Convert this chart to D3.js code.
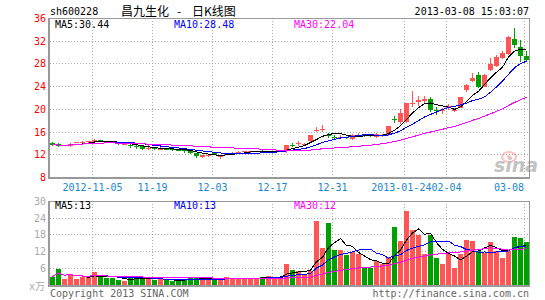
<!DOCTYPE html>
<html>
<head>
<meta charset="utf-8">
<script src="https://cdn.jsdelivr.net/npm/d3@7"></script>
<style>
body { margin: 0; background: #fff; }
svg { display: block; }
text { font-family: "DejaVu Sans Mono", monospace; font-size: 10px; }
</style>
</head>
<body>
<svg id="chart" width="545" height="300"></svg>
<script>
let opens = [
    14.1, 13.9, 13.6, 13.6, 14.1, 14.15, 14.2, 14.3, 14.6, 14.25,
    14.2, 14.1, 13.85, 13.8, 13.6, 13.5, 13.15, 13.2, 13.05, 13.1,
    13.0, 12.9, 12.8, 12.6, 12.4, 11.6, 11.9, 12.3, 11.75, 12.0,
    12.35, 12.5, 12.55, 12.55, 12.6, 12.7, 12.5, 12.55, 12.6, 12.6,
    13.8, 13.95, 13.85, 14.35, 16.35, 16.5, 15.45, 15.15, 15.15, 15.1,
    14.8, 15.45, 15.45, 15.4, 15.2, 15.3, 15.4, 18.25, 17.8, 17.7,
    21.0, 21.3, 21.4, 21.85, 19.85, 19.8, 20.2, 19.8, 20.3, 23.4,
    25.0, 26.1, 24.0, 27.0, 27.7, 29.1, 29.7, 32.4, 30.9, 29.4,
];
let highs = [
    14.2, 14.0, 13.8, 14.0, 14.3, 14.4, 14.4, 14.7, 14.6, 14.4,
    14.3, 14.15, 14.0, 13.85, 13.7, 13.5, 13.7, 13.3, 13.3, 13.2,
    13.1, 13.0, 12.9, 12.7, 12.4, 12.0, 12.1, 12.4, 11.9, 12.4,
    12.5, 12.7, 12.7, 12.7, 12.75, 12.8, 12.6, 12.7, 12.75, 13.8,
    14.1, 14.35, 14.1, 15.5, 16.9, 17.2, 15.8, 15.5, 15.5, 15.2,
    15.6, 15.9, 15.7, 15.5, 15.8, 15.7, 17.0, 18.75, 20.1, 21.2,
    23.2, 22.4, 22.3, 22.2, 20.4, 20.3, 21.0, 20.2, 22.1, 24.4,
    26.4, 26.5, 26.2, 29.0, 29.6, 30.3, 32.9, 34.4, 32.2, 30.3,
];
let lows = [
    13.6, 13.3, 13.5, 13.4, 14.0, 14.0, 14.1, 14.2, 14.2, 14.0,
    14.0, 13.8, 13.7, 13.2, 13.1, 12.9, 12.8, 12.9, 12.9, 12.9,
    12.7, 12.6, 12.4, 12.2, 11.5, 11.5, 11.6, 11.9, 11.3, 11.9,
    12.2, 12.4, 12.4, 12.4, 12.5, 12.3, 12.3, 12.4, 12.5, 12.3,
    13.3, 13.5, 13.6, 14.3, 16.0, 16.0, 15.0, 14.8, 14.9, 14.7,
    14.6, 15.2, 15.1, 15.1, 14.9, 15.1, 15.3, 17.6, 17.5, 17.6,
    20.5, 20.6, 21.0, 19.5, 19.0, 19.1, 19.9, 19.5, 20.2, 23.0,
    24.9, 23.8, 23.9, 26.8, 27.5, 28.9, 29.6, 30.8, 28.4, 28.3,
];
let closes = [
    13.8, 13.6, 13.65, 13.9, 14.2, 14.2, 14.35, 14.6, 14.3, 14.2,
    14.1, 13.9, 13.95, 13.5, 13.4, 13.1, 13.2, 13.0, 13.1, 13.0,
    12.9, 12.8, 12.7, 12.4, 11.7, 11.9, 11.95, 12.0, 11.8, 12.3,
    12.4, 12.55, 12.6, 12.6, 12.65, 12.5, 12.55, 12.6, 12.65, 13.8,
    13.75, 14.0, 13.9, 15.4, 16.4, 16.6, 15.4, 15.1, 15.2, 15.0,
    15.5, 15.5, 15.4, 15.25, 15.6, 15.45, 17.0, 18.2, 19.3, 21.2,
    21.1, 21.6, 21.9, 19.8, 19.8, 19.9, 20.55, 19.9, 22.1, 24.3,
    25.6, 23.9, 26.0, 27.9, 29.3, 30.0, 32.8, 31.3, 29.4, 28.7,
];
let volumes = [
    3.0, 5.6, 2.1, 3.9, 2.1, 2.7, 2.9, 4.8, 2.9, 2.4,
    2.4, 1.7, 1.6, 2.4, 2.9, 2.6, 2.1, 1.7, 2.0, 1.7,
    1.6, 1.6, 2.0, 2.4, 2.9, 2.3, 2.1, 1.7, 2.4, 2.9,
    2.4, 2.4, 2.2, 2.6, 2.6, 2.9, 3.3, 2.6, 2.9, 7.7,
    5.3, 4.9, 3.6, 5.0, 23.1, 13.2, 22.3, 12.4, 12.4, 10.8,
    11.8, 11.0, 6.0, 6.0, 8.6, 7.4, 10.1, 20.9, 15.8, 26.7,
    19.7, 17.8, 11.0, 17.9, 9.8, 7.4, 11.0, 6.0, 11.0, 16.1,
    15.8, 12.2, 11.4, 15.6, 12.2, 9.8, 12.2, 17.3, 17.0, 15.6,
];

let tickIndexes = [7, 17, 27, 37, 47, 59, 66, 79];
let tickLabels = ["2012-11-05", "11-19", "12-03", "12-17", "12-31", "2013-01-24", "02-04", "03-08"];
let priceTicks = [8, 12, 16, 20, 24, 28, 32, 36];
let volumeTicks = [6, 12, 18, 24, 30];

let maPeriods = [5, 10, 30];
let maColors = ["#000000", "#0000ff", "#ff00ff"];
let priceLegend = ["MA5:30.44", "MA10:28.48", "MA30:22.04"];
let volumeLegend = ["MA5:13", "MA10:13", "MA30:12"];

let upColor = "#ff5555", downColor = "#00a000";
let gridColor = "#aaaaaa", frameColor = "#999999";

function movingAverage(values, period) {
    return values.map((_, i) => d3.mean(values.slice(Math.max(0, i - period + 1), i + 1)));
}

function crisp(v) {
    return Math.floor(v) + 0.5;
}

let svg = d3.select("#chart");
let x = d3.scaleLinear().domain([0, closes.length]).range([50, 530]);
let yPrice = d3.scaleLinear().domain([8, 36]).range([177.5, 18.5]);
let yVolume = d3.scaleLinear().domain([0, 30]).range([285, 201.5]);
let barLeft = i => Math.floor(x(i));
let barCenter = i => Math.floor(x(i)) + 2.5;
let isUp = i => closes[i] >= opens[i];

function drawPanel(y, ticks, top, bottom, labelColor) {
    let g = svg.append("g").attr("shape-rendering", "crispEdges");
    g.selectAll(".hgrid")
        .data(ticks.filter(v => y(v) > top + 1 && y(v) < bottom - 1))
        .enter()
        .append("line")
        .attr("x1", 50).attr("x2", 529)
        .attr("y1", v => crisp(y(v))).attr("y2", v => crisp(y(v)))
        .attr("stroke", gridColor)
        .attr("stroke-dasharray", "1,2");
    g.selectAll(".vgrid")
        .data(tickIndexes)
        .enter()
        .append("line")
        .attr("x1", i => crisp(x(i))).attr("x2", i => crisp(x(i)))
        .attr("y1", top).attr("y2", bottom)
        .attr("stroke", gridColor)
        .attr("stroke-dasharray", "1,2");
    g.append("line").attr("x1", 48).attr("x2", 530).attr("y1", top + 0.5).attr("y2", top + 0.5)
        .attr("stroke", frameColor);
    g.append("line").attr("x1", 529.5).attr("x2", 529.5).attr("y1", top).attr("y2", bottom)
        .attr("stroke", frameColor);
    g.append("line").attr("x1", 49).attr("x2", 49).attr("y1", top).attr("y2", bottom + 1)
        .attr("stroke", frameColor).attr("stroke-width", 2);
    g.append("line").attr("x1", 48).attr("x2", 530).attr("y1", bottom).attr("y2", bottom)
        .attr("stroke", frameColor).attr("stroke-width", 2);
    svg.selectAll(null)
        .data(ticks)
        .enter()
        .append("text")
        .attr("x", 46)
        .attr("y", v => y(v) + 3.5)
        .attr("text-anchor", "end")
        .attr("fill", labelColor)
        .text(v => v);
}

drawPanel(yPrice, priceTicks, 18, 178, "#ff0000");
drawPanel(yVolume, volumeTicks, 201, 286, "#aaaaaa");

// sina watermark
let mark = svg.append("g").attr("opacity", 0.5);
mark.append("ellipse").attr("cx", 509).attr("cy", 157).attr("rx", 7).attr("ry", 5)
    .attr("fill", "none").attr("stroke", "#ff8080").attr("stroke-width", 2);
mark.append("circle").attr("cx", 509).attr("cy", 157).attr("r", 2).attr("fill", "#ff8080");
mark.append("text").attr("x", 494).attr("y", 172)
    .style("font-family", "'DejaVu Sans', sans-serif")
    .style("font-size", "19px").style("font-weight", "bold").style("font-style", "italic")
    .attr("fill", "#888888")
    .text("sina");

// x axis labels, pushed left where they would run into the next one
let xLabels = svg.selectAll(".xlabel")
    .data(tickIndexes)
    .enter()
    .append("text")
    .attr("y", 190.5)
    .attr("fill", "#1a86d0")
    .text((i, k) => tickLabels[k]);
let nextLeft = 529;
for (let k = tickIndexes.length - 1; k >= 0; k--) {
    let node = xLabels.nodes()[k];
    let width = node.getComputedTextLength();
    let left = crisp(x(tickIndexes[k])) - width / 2;
    if (k == tickIndexes.length - 1) {
        left = Math.floor(x(tickIndexes[k])) - width;
    }
    left = Math.min(left, nextLeft - width);
    d3.select(node).attr("x", left);
    nextLeft = left;
}

// candles
let candles = svg.append("g").attr("shape-rendering", "crispEdges");
let indexes = d3.range(closes.length);
candles.selectAll(".wick")
    .data(indexes)
    .enter()
    .append("line")
    .attr("x1", barCenter).attr("x2", barCenter)
    .attr("y1", i => Math.round(yPrice(highs[i])))
    .attr("y2", i => Math.round(yPrice(lows[i])))
    .attr("stroke", i => isUp(i) ? upColor : downColor);
candles.selectAll(".body")
    .data(indexes)
    .enter()
    .append("rect")
    .attr("x", barLeft)
    .attr("width", 5)
    .attr("y", i => Math.round(yPrice(Math.max(opens[i], closes[i]))))
    .attr("height", i => Math.max(1, Math.round(yPrice(Math.min(opens[i], closes[i]))) - Math.round(yPrice(Math.max(opens[i], closes[i])))))
    .attr("fill", i => isUp(i) ? upColor : downColor);

// volume bars
svg.append("g").attr("shape-rendering", "crispEdges")
    .selectAll("rect")
    .data(indexes)
    .enter()
    .append("rect")
    .attr("x", barLeft)
    .attr("width", 5)
    .attr("y", i => Math.round(yVolume(volumes[i])))
    .attr("height", i => 285 - Math.round(yVolume(volumes[i])))
    .attr("fill", i => isUp(i) ? upColor : downColor);

// moving averages
function drawAverages(values, y) {
    maPeriods.forEach((period, k) => {
        let averages = movingAverage(values, period);
        svg.append("path")
            .datum(indexes)
            .attr("d", d3.line().x(barCenter).y(i => y(averages[i])))
            .attr("fill", "none")
            .attr("stroke", maColors[k])
            .attr("stroke-width", 1)
            .attr("shape-rendering", "crispEdges");
    });
}
drawAverages(closes, yPrice);
drawAverages(volumes, yVolume);

// legends
let legendX = [55, 174, 294];
function drawLegend(labels, y) {
    svg.selectAll(null)
        .data(labels)
        .enter()
        .append("text")
        .attr("x", (d, k) => legendX[k])
        .attr("y", y)
        .attr("fill", (d, k) => maColors[k])
        .text(d => d);
}
drawLegend(priceLegend, 28);
drawLegend(volumeLegend, 208.5);

// titles
svg.append("text").attr("x", 50).attr("y", 15).attr("fill", "#000").text("sh600228");
let title = svg.append("text").attr("y", 16)
    .style("font-family", "'Noto Sans CJK SC', sans-serif").style("font-size", "12px")
    .attr("fill", "#000");
title.append("tspan").attr("x", 121).text("昌九生化");
title.append("tspan").attr("x", 177).text("-");
title.append("tspan").attr("x", 192).text("日K线图");
svg.append("text").attr("x", 529).attr("y", 15).attr("text-anchor", "end").attr("fill", "#000")
    .text("2013-03-08 15:03:07");

svg.append("text").attr("x", 45).attr("y", 289.5).attr("text-anchor", "end")
    .style("font-family", "'DejaVu Sans Mono', 'Noto Sans CJK SC', monospace")
    .attr("fill", "#aaaaaa").text("x万");
svg.append("text").attr("x", 50).attr("y", 297).attr("fill", "#666666").text("Copyright 2013 SINA.COM");
svg.append("text").attr("x", 529).attr("y", 297).attr("text-anchor", "end").attr("fill", "#666666")
    .text("http://finance.sina.com.cn");
</script>
</body>
</html>
